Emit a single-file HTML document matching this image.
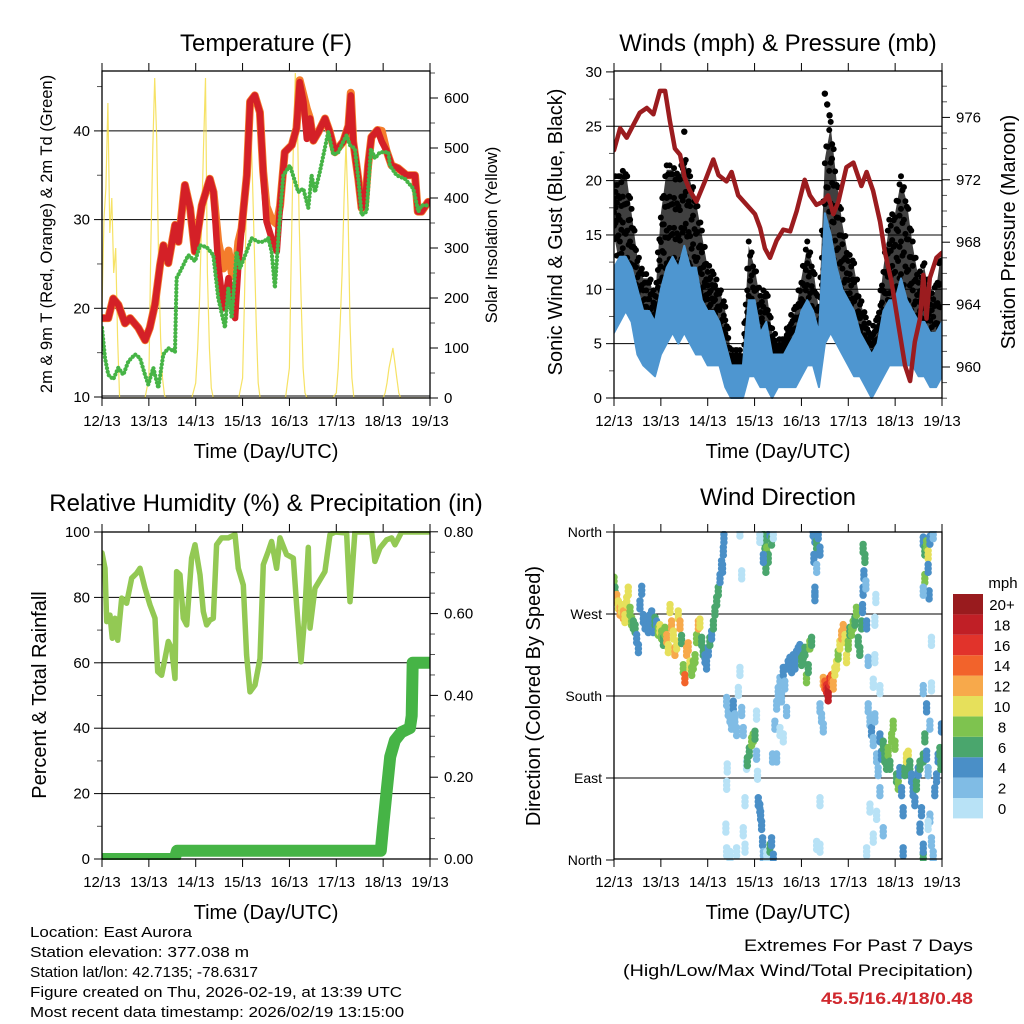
<!DOCTYPE html>
<html><head><meta charset="utf-8"><style>
html,body{margin:0;padding:0;background:#fff}
svg{display:block;font-family:"Liberation Sans",sans-serif}
</style></head><body>
<svg id="chart" width="1024" height="1024" viewBox="0 0 1024 1024" xmlns="http://www.w3.org/2000/svg">
<defs>
<clipPath id="c1"><rect x="102" y="71" width="328" height="327"/></clipPath>
<clipPath id="c2"><rect x="614" y="71" width="328" height="328"/></clipPath>
<clipPath id="c3"><rect x="102" y="531" width="328" height="329"/></clipPath>
<clipPath id="c4"><rect x="614" y="531" width="328" height="330"/></clipPath>
</defs>
<g id="root"></g>
</svg>
<script>
// ---------- DATA ----------
const dayLabels = ["12/13","13/13","14/13","15/13","16/13","17/13","18/13","19/13"];
const tempTicks = [10,20,30,40];
const solarTicks = [0,100,200,300,400,500,600];
const windTicks = [0,5,10,15,20,25,30];
const pressTicks = [960,964,968,972,976];
const rhTicks = [0,20,40,60,80,100];
const precTicks = ["0.00","0.20","0.40","0.60","0.80"];
const dirTickLabels = ["North","East","South","West","North"];
const dirTickDeg = [0,90,180,270,360];

const tempT = [0,.135,.24,.35,.49,.6,.775,.92,1.02,1.13,1.24,1.31,1.415,1.56,1.63,1.77,1.88,1.98,2.13,2.3,2.38,2.48,2.59,2.7,2.77,2.84,2.91,2.98,3.09,3.16,3.26,3.37,3.44,3.51,3.62,3.73,3.8,3.9,4.05,4.15,4.22,4.3,4.37,4.44,4.51,4.62,4.76,4.86,4.97,5.15,5.26,5.31,5.36,5.47,5.54,5.61,5.68,5.75,5.88,5.97,6.07,6.18,6.32,6.5,6.68,6.74,6.82,6.96];
const temp2m = [18.9,18.9,21.1,20.4,18.3,18.9,17.8,16.4,17.8,20.4,24.9,27.1,25.1,29.4,27.5,33.9,31.3,26.4,31.6,34.6,33.1,24.9,20.0,23.4,21.1,18.9,24.9,29.0,35.0,43.3,44.0,42.1,35.4,29.8,27.9,26.4,31.6,37.6,38.4,40.3,45.5,43.3,39.1,41.4,38.9,39.9,41.4,39.9,37.6,38.8,40.6,44.0,38.8,34.6,31.3,31.6,36.1,39.3,40.1,38.8,37.8,36.1,35.8,35.0,35.0,30.9,30.9,32.0];
const temp9m = [18.9,18.9,21.1,20.4,18.3,18.9,17.8,16.4,17.8,20.4,24.9,27.1,25.1,29.4,27.5,33.9,31.3,26.4,31.6,34.6,33.1,27.5,24.5,26.5,24.0,23.5,27.5,29.0,35.0,43.3,44.0,42.1,35.4,31.5,30.0,29.5,31.6,37.6,38.4,40.3,45.7,44.0,42.5,41.4,38.9,39.9,41.4,39.9,37.6,38.8,40.6,44.3,38.8,34.6,31.3,31.6,36.1,39.3,40.1,40.0,37.8,36.1,35.8,35.0,35.0,30.9,30.9,32.0];
const tdT = [0,.064,.135,.242,.348,.455,.562,.704,.811,.918,.989,1.095,1.202,1.308,1.415,1.557,1.593,1.7,1.842,1.984,2.091,2.233,2.375,2.482,2.624,2.695,2.767,2.873,2.944,3.087,3.193,3.335,3.442,3.549,3.62,3.691,3.798,3.869,4.011,4.118,4.189,4.296,4.402,4.474,4.545,4.651,4.829,4.936,5.043,5.149,5.22,5.291,5.398,5.469,5.54,5.647,5.739,5.825,5.932,6.11,6.145,6.287,6.465,6.643,6.75,6.821,6.963];
const dewpoint = [17.8,14.4,12.5,12.0,13.3,12.5,14.0,14.8,14.4,12.5,11.4,13.3,11.0,14.8,15.5,15.1,23.4,24.5,26.0,25.3,27.1,26.9,26.0,21.1,17.8,22.3,18.9,26.4,24.5,26.4,27.9,27.5,27.5,27.9,26.4,22.3,30.5,35.0,36.1,34.3,33.1,33.5,31.3,35.0,33.1,35.4,39.9,37.3,37.6,38.8,39.5,38.4,38.0,34.6,30.5,30.9,38.0,36.9,37.6,37.6,36.1,35.0,34.6,33.5,30.9,31.6,31.6];
// hourly insolation, each row starts at 13 UTC of a day (hours 13..22)
const solarDays = [
 [180,360,420,590,330,400,250,300,120,0],
 [40,300,500,640,520,270,120,40,5,0],
 [30,100,200,350,500,640,250,100,20,0],
 [40,200,400,560,580,450,300,150,30,0],
 [60,300,500,650,580,350,200,60,10,0],
 [10,60,150,250,400,510,380,150,40,0],
 [0,10,30,60,80,100,70,40,10,0]
];

const windStep = 0.125;
const gustLo = [15,12,10,10,7,5,5,5,8,9,10,9,10,9,8,7,7,6,4,3,2,2,2,4,5,3,4,3,3,3,4,4,5,6,5,3,7,10,8,7,6,5,4,3,3,3,5,7,7,8,6,5,4,4,3,3,5];
const gustHi = [20,20,21,17,13,11,11,9,17,21,21,20,22,20,18,15,12,11,10,8,4,4,4,14,12,9,10,6,5,5,7,8,11,14,12,8,22,25,20,16,13,12,9,7,6,7,12,16,17,20,18,14,11,12,9,10,14];
const windLo = [6,7,8,7,4,3,2.5,2,4,5,6,5,6,5,4,4,3,3,3,1,0,0,0,2,2,1,1,0,1,1,1,1,2,3,3,1,5,6,5,4,3,2,2,1,0,1,2,3,3,3,3,3,2,2,1,1,2];
const windHi = [12,13,13,12,10,8,8,7,10,12,13,12,14,12,12,9,8,8,7,5,3,3,3,9,9,6,7,4,4,4,5,6,8,9,8,6,17,15,12,10,9,8,6,5,4,5,8,9,9,11,9,8,7,7,6,6,7];
const gustPeakT = [1.5,4.5,4.55,4.6,4.65];
const gustPeakV = [24.5,28,27,26,22];
const pressT = [0,.13,.27,.41,.55,.7,.84,.98,1.09,1.19,1.3,1.41,1.51,1.62,1.76,1.94,2.12,2.23,2.4,2.51,2.65,2.83,3.01,3.12,3.22,3.33,3.47,3.61,3.76,3.9,4.07,4.18,4.32,4.47,4.57,4.68,4.79,4.96,5.11,5.28,5.39,5.53,5.68,5.78,5.92,6.07,6.21,6.32,6.42,6.53,6.6,6.67,6.74,6.88,6.99];
const pressure = [973.9,975.3,974.7,975.5,976.3,976.6,976.2,977.7,977.7,975.8,974.0,973.6,972.1,971.3,970.6,971.9,973.3,972.3,971.9,972.5,971.0,970.4,969.8,968.9,967.6,967.0,968.1,968.8,968.7,970.0,972.0,971.0,970.4,970.6,971.0,969.8,970.6,972.8,973.1,971.6,972.5,971.3,969.3,967.4,965.5,962.7,960.1,959.1,961.6,963.1,965.9,963.1,965.7,967.0,967.3];

const rhT = [0,.064,.1,.171,.22,.277,.334,.42,.526,.633,.74,.811,.918,1.024,1.131,1.188,1.273,1.344,1.415,1.486,1.557,1.593,1.664,1.735,1.807,1.913,1.984,2.091,2.162,2.233,2.304,2.375,2.446,2.553,2.695,2.838,2.909,3.016,3.087,3.158,3.265,3.371,3.442,3.549,3.62,3.727,3.798,3.94,4.083,4.154,4.246,4.317,4.402,4.438,4.545,4.758,4.865,4.972,5.221,5.292,5.398,5.754,5.825,5.932,6.074,6.181,6.252,6.394,6.963];
const rh = [93.6,88.9,72.6,74.6,67.5,73.6,66.9,79.8,78.2,85.9,87.4,88.9,82.8,77.7,73.6,57.3,56.2,61.3,66.5,64.4,55.2,87.9,86.9,73.6,71.6,92.0,96.1,86.9,75.7,71.6,73.1,73.6,96.1,98.2,98.2,99.2,88.9,83.8,62.4,51.1,53.2,61.3,90.0,94.1,97.1,88.9,98.2,93.1,92.0,77.7,60.3,72.6,95.3,70.6,82.8,87.9,99.2,100,99.7,78.7,100,100,91.0,95.1,97.6,98.2,96.1,100,100];
const precT = [0,1.55,1.6,5.95,6.0,6.07,6.15,6.25,6.39,6.57,6.61,6.63,6.98];
const precip = [0,0,0.02,0.02,0.08,0.16,0.25,0.29,0.31,0.32,0.35,0.48,0.48];

const dirHours = [0,0.5,1.4,2.2,3.1,3.9,4.8,5.6,6.5,7.3,8.2,9,9.9,10.8,11.6,12.5,13.3,14.2,15,15.9,16.7,17.6,18.4,19.3,20.1,21,21.8,22.7,23.5,24.4,25.3,26.1,27,27.8,28.7,29.5,30.4,31.2,32.1,32.9,33.8,34.6,35.5,36.3,37.2,38,38.9,39.8,40.6,41.5,42.3,43.2,44,44.9,45.7,46.6,47.4,48.3,49.1,50,50.9,51.7,52.6,53.4,54.3,55.1,56,56.3,55.6,
57.7,58.5,59.4,60.2,61.1,61.9,62.8,63.7,64.5,65.4,66.2,58,57.7,57.3,57.7,59.4,62.8,66.2,67.1,65.4,64.5,67.9,67.1,
68.3,69.3,70.5,71.3,72.2,73,73,73.5,73.9,74.7,75.1,75.6,76.1,76.5,78.2,79.9,80.7,81.6,81.2,
75.6,76.5,77.3,78.2,79,77.8,79.9,80.7,76.5,81.6,74.7,
82.4,83.3,84.1,85,85.8,86.7,87.5,88.4,89.2,90.1,91,91.8,92.7,93.5,94.4,95.2,96.1,96.9,97.8,98.6,99.5,100.3,101.2,85,83.3,86.7,
102,102.9,103.8,104.6,105.5,102.4,102.9,102.9,103.8,105.5,106.3,107.2,105.5,103.8,105.5,
107.2,108,108.9,109.7,110.6,111.4,112.3,109.7,113.1,114,114.8,115.7,116.6,117.4,118.3,119.1,120,120.8,121.7,122.5,123.4,124.2,125.1,125.9,126.8,127.3,127.6,128,128.5,127.6,129,129.4,130.2,133.6,134.1,133.6,132.8,136.2,
130.2,131.1,131.9,132.8,133.6,134.5,135.3,136.2,137,137.9,138.7,139.6,140.4,141.3,142.2,143,143.9,144.7,145.6,146.4,147.3,148.1,149,149.8,150.7,151.5,152.4,153.2,154.1,154.9,155.8,156.7,157.5,158.4,159.2,160.1,160.9,161.8,162.6,163.5,164.3,165.2,166,166.9,167.4,167.7,160.9,158.4,160.1,161.8,131.1,132.8,129.4,134.5,136.2,137.9,148.1,156.7,158.4,
158.4,159.2,160.1,160.9,161.8,159.2,160.9,161.4,163.5,162.6,158.4,162.6,158.4];
const dirDeg = [306,295,287,280,273,276,269,265,284,295,273,262,258,254,243,232,280,296,265,258,262,254,265,269,254,262,258,251,254,247,240,251,243,232,276,258,247,229,236,269,258,242,210,199,229,234,214,207,214,221,243,258,260,240,229,221,214,229,240,247,258,273,284,295,309,324,339,353,320,
174,163,156,148,170,156,141,185,207,163,141,101,82,35,9,5,9,31,13,313,360,104,64,
108,119,130,134,137,115,159,93,64,57,49,38,20,5,5,13,20,2,112,
360,353,346,339,331,320,360,350,331,357,353,
148,170,185,196,178,207,192,163,214,218,210,221,214,225,229,232,218,221,229,199,210,236,240,141,112,134,
360,353,346,357,339,331,295,289,320,167,156,145,64,16,13,
196,192,188,185,196,199,192,179,207,214,225,236,247,254,243,221,236,251,251,258,262,273,240,229,258,276,295,313,331,342,302,258,218,221,287,262,194,187,
167,152,141,130,156,112,97,134,115,126,112,104,119,104,134,148,126,90,82,97,75,53,97,112,115,104,90,75,64,82,97,104,53,112,134,115,97,46,20,5,75,90,112,119,104,145,38,2,167,148,57,24,9,49,75,31,9,35,13,
350,339,346,335,351,309,320,291,357,240,295,190,187];
const dirSpeed = [8,6,12,11,12,10,12,11,10,10,9,8,6,6,4,4,4,4,4,4,4,4,4,4,4,6,4,8,10,8,6,9,12,10,10,12,11,12,10,10,12,6,9,14,12,12,10,9,8,8,8,12,10,6,6,4,4,4,6,4,6,6,6,6,4,4,4,4,4,
2,2,2,2,4,2,2,1,1,2,2,1,1,1,1,1,1,1,1,1,1,1,1,
6,6,8,8,7,2,1,1,4,4,4,4,4,3,1,6,4,4,3,
4,6,6,8,6,6,4,6,4,1,1,
2,2,2,2,2,4,2,2,4,4,4,4,4,4,4,4,6,6,6,8,6,8,6,1,2,1,
4,4,6,4,4,4,4,4,2,2,2,2,1,1,1,
12,14,16,18,16,14,12,18,10,10,8,10,12,12,10,10,8,6,8,8,6,8,6,6,6,4,4,4,6,6,2,4,2,1,1,1,1,1,
2,2,4,2,2,2,2,4,4,6,6,6,8,6,8,8,8,6,8,4,4,4,6,10,10,6,4,4,4,6,4,6,4,6,6,4,2,2,2,2,4,4,4,6,6,4,1,6,4,2,1,1,1,1,2,2,4,4,4,
4,6,8,10,4,8,4,4,2,1,2,1,2];
const speedColors = ["#b8e2f6","#80bce5","#4a8fc7","#4aa66d","#7ec34f","#e6e05b","#f7a94b","#f2632b","#e1332b","#c01f26","#991b1e"];
const speedLabels = ["0","2","4","6","8","10","12","14","16","18","20+"];
// ---------- RENDER ----------
const NS="http://www.w3.org/2000/svg";
const root=document.getElementById('root');
function el(tag,attrs,parent,text){const e=document.createElementNS(NS,tag);for(const k in attrs)e.setAttribute(k,attrs[k]);if(text!==undefined)e.textContent=text;(parent||root).appendChild(e);return e;}
function path(xs,ys){return xs.map((x,i)=>(i?'L':'M')+x.toFixed(1)+' '+ys[i].toFixed(1)).join(' ');}

const DAYS=7, PW=328;
function xL(t){return 102+t/DAYS*PW;}
function xR(t){return 614+t/DAYS*PW;}
const yTemp=v=>397-(v-10)*8.87;
const ySolar=v=>398-v*0.5;
const yWind=v=>398-v*10.87;
const yPress=v=>367-(v-960)*15.6;
const yRH=v=>859-v*3.27;
const yPrec=v=>859-v*409;
const yDir=v=>860-v*328/360;

function txt(x,y,s,size,anchor,name,extra){const a=Object.assign({x:x,y:y,'font-size':size,'text-anchor':anchor||'middle',fill:'#000'},extra||{});const t=el('text',a,null,s);return t;}

function frame(x0,y0,name,xfn){
  const g=el('g',{});
  
  
  for(let d=0;d<=7;d++){
    const x=xfn(d);
    el('line',{x1:x,x2:x,y1:y0+327,y2:y0+335,stroke:'#000','stroke-width':1},g);
    el('line',{x1:x,x2:x,y1:y0-8,y2:y0,stroke:'#000','stroke-width':1},g);
    txt(x,y0+355,dayLabels[d],15,'middle','x-tick-label');
  }
  txt(x0+164,y0+387,'Time (Day/UTC)',20,'middle','x-axis-title');
}
function border(x0,y0,name){const r=el('rect',{x:x0,y:y0,width:328,height:327,fill:'none',stroke:'#000','stroke-width':1.3});}
function hgrid(x0,ys,name){ys.forEach(y=>{const l=el('line',{x1:x0,x2:x0+328,y1:y,y2:y,stroke:'#000','stroke-width':1});});}
function yTicksLeft(x0,vals,fn,labels,size,minor){vals.forEach((v,i)=>{const y=fn(v);el('line',{x1:x0-8,x2:x0,y1:y,y2:y,stroke:'#000'});txt(x0-12,y+5,labels?labels[i]:String(v),size||15,'end','y-tick-label');});(minor||[]).forEach(v=>{const y=fn(v);el('line',{x1:x0-5,x2:x0,y1:y,y2:y,stroke:'#555'});});}
function yTicksRight(x1,vals,fn,labels,minor){vals.forEach((v,i)=>{const y=fn(v);el('line',{x1:x1,x2:x1+8,y1:y,y2:y,stroke:'#000'});txt(x1+14,y+5,labels?labels[i]:String(v),15,'start','y2-tick-label');});(minor||[]).forEach(v=>{const y=fn(v);el('line',{x1:x1,x2:x1+5,y1:y,y2:y,stroke:'#555'});});}
function vtitle(x,y,s,size,name){return txt(0,0,s,size,'middle',name,{transform:'translate('+x+','+y+') rotate(-90)'});}

// ===== Panel 1: Temperature =====
txt(266,51,'Temperature (F)',24,'middle','temperature-title');
hgrid(102,[20,30,40].map(yTemp),'temp');
el('line',{x1:102,x2:430,y1:ySolar(0)-2,y2:ySolar(0)-2,stroke:'#000','stroke-width':1});
yTicksLeft(102,tempTicks,yTemp,null,15,[15,25,35,45]);
yTicksRight(430,solarTicks,ySolar,null,[50,150,250,350,450,550,650]);
vtitle(52,234,'2m & 9m T (Red, Orange) & 2m Td (Green)',16.5,'temp-y-axis-title');
vtitle(497,235,'Solar Insolation (Yellow)',16.5,'solar-y-axis-title');
const g1=el('g',{'clip-path':'url(#c1)'});


{
  const xs=[],ys=[];
  solarDays.forEach((row,d)=>{row.forEach((v,h)=>{xs.push(xL(d+h/24));ys.push(ySolar(v));});for(let h=10;h<24;h+=4){xs.push(xL(d+h/24));ys.push(ySolar(0));}});
  const p=el('path',{d:path(xs,ys),fill:'none',stroke:'#f5dd4a','stroke-width':1.2,'stroke-opacity':0.85},g1);
  
  
}
{
  const p9=el('path',{d:path(tempT.map(xL),temp9m.map(yTemp)),fill:'none',stroke:'#f47d2c','stroke-width':8,'stroke-linejoin':'round','stroke-linecap':'round'},g1);
  
  
  const p2=el('path',{d:path(tempT.map(xL),temp2m.map(yTemp)),fill:'none',stroke:'#d42027','stroke-width':6.5,'stroke-linejoin':'round','stroke-linecap':'round'},g1);
  
  
  const pd=el('path',{d:path(tdT.map(xL),dewpoint.map(yTemp)),fill:'none',stroke:'#46b446','stroke-width':4.2,'stroke-dasharray':'0.1 3.6','stroke-linecap':'round','stroke-linejoin':'round'},g1);
  
  
}
border(102,71,'temperature');
frame(102,71,'temperature',xL);

// ===== Panel 2: Winds =====
txt(778,51,'Winds (mph) & Pressure (mb)',24,'middle','winds-title');
hgrid(614,[5,10,15,20,25].map(yWind),'wind');
yTicksLeft(614,windTicks,yWind,null,15,[2.5,7.5,12.5,17.5,22.5,27.5]);
yTicksRight(942,pressTicks,yPress,null,[958,959,961,962,963,965,966,967,969,970,971,973,974,975,977,978]);
vtitle(562,232,'Sonic Wind & Gust (Blue, Black)',20,'wind-y-axis-title');
vtitle(1015,232,'Station Pressure (Maroon)',20,'pressure-y-axis-title');
const g2=el('g',{'clip-path':'url(#c2)'});


{
  const ts=gustHi.map((v,i)=>i*windStep);
  const gb=el('path',{d:path(ts.map(xR).concat(ts.map(xR).reverse()),gustHi.map(yWind).concat(gustLo.map(yWind).reverse()))+'Z',fill:'#000','fill-opacity':0.75,stroke:'none'},g2);
  
  
  // gust dots interpolated between samples
  for(let i=0;i<ts.length-1;i++){
    for(let s=0;s<4;s++){
      const f=s/4, t=ts[i]+f*windStep;
      const hi=gustHi[i]+(gustHi[i+1]-gustHi[i])*f, lo=gustLo[i]+(gustLo[i+1]-gustLo[i])*f;
      [0,0.25,0.5,0.75,1].forEach(q=>{
        const v=hi-(hi-lo)*q+((s+i)%2?0.4:-0.4);
        const c=el('circle',{cx:xR(t),cy:yWind(v),r:3,fill:'#000'},g2);
        
        
      });
    }
  }
  gustPeakT.forEach((t,i)=>{const c=el('circle',{cx:xR(t),cy:yWind(gustPeakV[i]),r:3.2,fill:'#000'},g2);});
  const wb=el('path',{d:path(ts.map(xR).concat(ts.map(xR).reverse()),windHi.map(yWind).concat(windLo.map(yWind).reverse()))+'Z',fill:'#4e96d0',stroke:'#4e96d0','stroke-width':2,'stroke-linejoin':'round'},g2);
  
  
  const pp=el('path',{d:path(pressT.map(xR),pressure.map(yPress)),fill:'none',stroke:'#9b1c1f','stroke-width':4.5,'stroke-linejoin':'round','stroke-linecap':'round'},g2);
  
  
}
border(614,71,'winds');
frame(614,71,'winds',xR);

// ===== Panel 3: RH & Precip =====
txt(266,511,'Relative Humidity (%) & Precipitation (in)',24,'middle','humidity-title');
hgrid(102,[20,40,60,80].map(yRH),'rh');
yTicksLeft(102,rhTicks,yRH,null,15,[10,30,50,70,90]);
yTicksRight(430,[0,0.2,0.4,0.6,0.8],yPrec,precTicks,[0.05,0.1,0.15,0.25,0.3,0.35,0.45,0.5,0.55,0.65,0.7,0.75]);
vtitle(46,695,'Percent & Total Rainfall',20,'rh-y-axis-title');
const g3=el('g',{'clip-path':'url(#c3)'});


{
  const pr=el('path',{d:path(precT.map(xL),precip.map(yPrec)),fill:'none',stroke:'#46b446','stroke-width':12,'stroke-linejoin':'round','stroke-linecap':'round'},g3);
  
  
  const rl=el('path',{d:path(rhT.map(xL),rh.map(yRH)),fill:'none',stroke:'#93c954','stroke-width':5.5,'stroke-linejoin':'round','stroke-linecap':'round'},g3);
  
  
}
border(102,532,'humidity');
frame(102,532,'humidity',xL);

// ===== Panel 4: Wind direction =====
txt(778,505,'Wind Direction',24,'middle','direction-title');
hgrid(614,[90,180,270].map(yDir),'dir');
yTicksLeft(614,dirTickDeg,yDir,dirTickLabels,14);
vtitle(540,696,'Direction (Colored By Speed)',20,'direction-y-axis-title');
const g4=el('g',{'clip-path':'url(#c4)'});


dirHours.forEach((h,i)=>{
  const s=dirSpeed[i]; const ci=Math.min(10,Math.floor(s/2));
  const cx=xR(h/24), cy=yDir(dirDeg[i]);
  [-4,0,4].forEach(dy=>{
    const c=el('circle',{cx:cx,cy:cy+dy,r:3.7,fill:speedColors[ci]},g4);
    
    
  });
});
border(614,532,'direction');
frame(614,532,'direction',xR);
txt(1003,588,'mph',15,'middle','colorbar-title');
speedColors.forEach((col,i)=>{
  const k=10-i; const y=594+k*20.4;
  const r=el('rect',{x:953,y:y,width:30,height:20.4,fill:col});
  
  
  txt(1002,y+16,speedLabels[i],15,'middle','colorbar-label');
});

// ===== Footer =====
const foot=["Location: East Aurora","Station elevation: 377.038 m","Station lat/lon: 42.7135; -78.6317","Figure created on Thu, 2026-02-19, at 13:39 UTC","Most recent data timestamp: 2026/02/19 13:15:00"];
const footW=[162,219,228,372,374];
foot.forEach((s,i)=>{txt(30,937+i*20,s,15,'start','footer-line',{textLength:footW[i],lengthAdjust:'spacingAndGlyphs'});});
txt(973,951,'Extremes For Past 7 Days',17,'end','extremes-heading',{textLength:229,lengthAdjust:'spacingAndGlyphs'});
txt(973,976,'(High/Low/Max Wind/Total Precipitation)',17,'end','extremes-subheading',{textLength:350,lengthAdjust:'spacingAndGlyphs'});
txt(973,1004,'45.5/16.4/18/0.48',17,'end','extremes-values',{fill:'#d0282e','font-weight':'bold',textLength:152,lengthAdjust:'spacingAndGlyphs'});
</script>
</body></html>
